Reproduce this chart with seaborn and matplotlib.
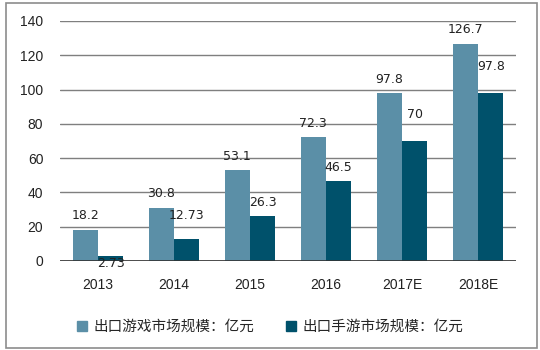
import matplotlib
matplotlib.use("Agg")
import matplotlib.pyplot as plt
import seaborn as sns
import pandas as pd
from matplotlib.patches import Rectangle

categories = ["2013", "2014", "2015", "2016", "2017E", "2018E"]
export_games = [18.2, 30.8, 53.1, 72.3, 97.8, 126.7]
export_mobile = [2.73, 12.73, 26.3, 46.5, 70, 97.8]
export_games_labels = ["18.2", "30.8", "53.1", "72.3", "97.8", "126.7"]
export_mobile_labels = ["2.73", "12.73", "26.3", "46.5", "70", "97.8"]
series_names = ["出口游戏市场规模：亿元", "出口手游市场规模：亿元"]
yticks = [0, 20, 40, 60, 80, 100, 120, 140]

# label vertical offsets (points) as placed in the original
games_offsets = [10, 10.5, 9.5, 10, 10, 10.5]
mobile_offsets = [-5, 17, 10, 10, 19, 19.5]

colors = ["#5B8FA7", "#00516B"]

sns.set_theme(style="white")
plt.rcParams["font.family"] = ["Noto Sans CJK SC", "DejaVu Sans"]

df = pd.DataFrame({
    "cat": categories * 2,
    "val": export_games + export_mobile,
    "series": [series_names[0]] * 6 + [series_names[1]] * 6,
})

fig = plt.figure(figsize=(5.4, 3.5), dpi=100)
ax = fig.add_axes([60 / 540, 89 / 350, 456 / 540, 240 / 350])

sns.barplot(data=df, x="cat", y="val", hue="series", palette=colors,
            width=0.67, gap=0, saturation=1, ax=ax, legend=False, zorder=3,
            linewidth=0, edgecolor="none")

ax.set_ylim(0, 140)
ax.set_xlim(-0.5, 5.5)
ax.set_yticks(yticks)
ax.set_yticklabels([str(t) for t in yticks], fontsize=10, family=["Liberation Sans"], color="#222222")
ax.set_xticks(range(len(categories)))
ax.set_xticklabels(categories, fontsize=10, family=["Liberation Sans"], color="#222222")
ax.set_xlabel("")
ax.set_ylabel("")
ax.tick_params(axis="both", length=0)
ax.tick_params(axis="y", pad=12)
ax.tick_params(axis="x", pad=12)
for s in ax.spines.values():
    s.set_visible(False)
ax.yaxis.grid(True, color="#7F7F7F", linewidth=1, zorder=0)
ax.set_axisbelow(True)
ax.axhline(0, color="#333333", linewidth=1.2, zorder=4)

bw = 0.67 / 2
for i, (v, lab, off) in enumerate(zip(export_games, export_games_labels, games_offsets)):
    ax.annotate(lab, (i - bw / 2, v), xytext=(0, off), textcoords="offset points",
                ha="center", va="center", fontsize=9, family=["DejaVu Sans"], color="#222222", zorder=5)
for i, (v, lab, off) in enumerate(zip(export_mobile, export_mobile_labels, mobile_offsets)):
    ax.annotate(lab, (i + bw / 2, v), xytext=(0, off), textcoords="offset points",
                ha="center", va="center", fontsize=9, family=["DejaVu Sans"], color="#222222", zorder=5)

# legend
handles = [Rectangle((0, 0), 1, 1, color=c) for c in colors]
fig.legend(handles, series_names, loc="center", bbox_to_anchor=(0.5, 1 - 327 / 350),
           ncol=2, frameon=False, fontsize=10.5, handlelength=0.7, handleheight=0.7,
           columnspacing=2.2, handletextpad=0.4)

# figure border
fig.patches.append(Rectangle((6 / 540, 2 / 350), 531 / 540, 345 / 350, transform=fig.transFigure,
                             fill=False, edgecolor="#8C8C8C", linewidth=1.2))

fig.savefig("out.png", dpi=100)
